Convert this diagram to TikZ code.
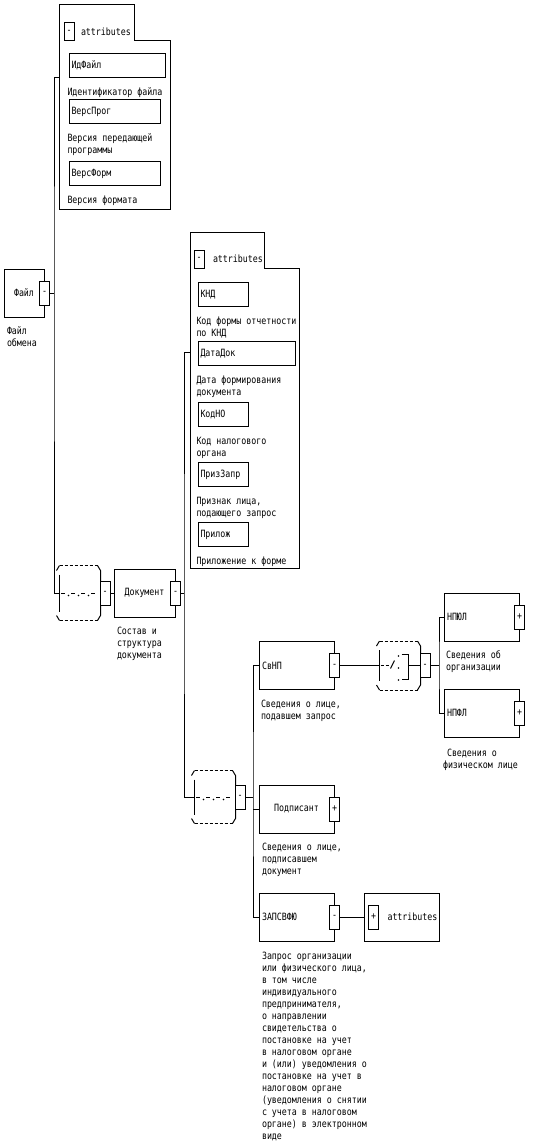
\documentclass[tikz,border=0pt]{standalone}
\usepackage{fontspec}
\usepackage{tikz}
\usetikzlibrary{positioning}
\newfontfamily\xsdfont[FakeStretch=0.83]{DejaVu Sans Mono}
\newcommand{\xsd}{\xsdfont\fontsize{10}{12}\selectfont}
\newcommand{\compframe}[1]{%
  \draw ([xshift=-3pt,yshift=-5pt]#1.north west) -- (#1.north west);
  \draw[dash pattern=on 3pt off 2pt] (#1.north west) -- (#1.north east);
  \draw (#1.north east) -- ([xshift=3pt,yshift=-5pt]#1.north east) -- ([xshift=3pt,yshift=5pt]#1.south east) -- (#1.south east);
  \draw[dash pattern=on 3pt off 2pt] (#1.south west) -- (#1.south east);
  \draw ([xshift=-3pt,yshift=5pt]#1.south west) -- (#1.south west);
  \draw ([yshift=-9pt]#1.north west) -- ([yshift=9pt]#1.south west);}
\newcommand{\seqmark}[1]{%
  \draw[dash pattern=on 4pt off 6pt,dash phase=8.5pt] (#1.west) -- ([xshift=2pt]#1.east);
  \foreach \dx in {-10,0,10}
    \fill ([xshift=\dx pt,yshift=-2.5pt]#1.center) circle (0.8pt);}
\newcommand{\choicemark}[1]{%
  \draw[dash pattern=on 3pt off 2pt] ([xshift=1pt]#1.west) -- ([xshift=10pt]#1.west);
  \draw ([xshift=11pt,yshift=-3pt]#1.west) -- ([xshift=15pt,yshift=5pt]#1.west);
  \foreach \dy in {9.5,-2.5,-14.5}
    \fill ([xshift=19pt,yshift=\dy pt]#1.west) circle (0.8pt);
  \draw ([xshift=22pt,yshift=11pt]#1.west) -- ([xshift=29pt,yshift=11pt]#1.west) -- ([xshift=29pt,yshift=-14pt]#1.west) -- ([xshift=22pt,yshift=-14pt]#1.west);
  \draw ([xshift=29pt]#1.west) -- ([xshift=2pt]#1.east);}

\begin{document}
\begin{tikzpicture}[
  x=1pt,y=-1pt,line width=1pt,
  every node/.style={font=\xsd,inner sep=0pt},
  elem/.style={draw,minimum width=#1,minimum height=48pt},
  xbox/.style={draw,fill=white,minimum width=10pt,minimum height=24pt},
  tabx/.style={draw,fill=white,minimum width=10pt,minimum height=18pt},
  attr/.style={draw,anchor=north west,minimum height=24pt,inner xsep=2pt,text width=#1,align=left},
  lbl/.style={align=left,anchor=north west},
  comp/.style={minimum width=37pt,minimum height=#1}
]
\useasboundingbox (0,0) rectangle (535,1148);

\node[elem=40pt] (fajl) at (24,293) {Файл};
\node[xbox] (fajlx) at (fajl.east) {-};
\node[below right=8.5pt and 3pt of fajl.south west,lbl] (fajl-l) {Файл\\обмена};

\draw (59,5) -- (134,5) -- (134,41) -- (170,41) -- (170,209) -- (59,209) -- cycle;
\node[tabx] (attrax) at (69,32) {-};
\node[right=6pt of attrax] (attrat) {attributes};
\node[attr=92pt] (idfajl) at (69,53) {ИдФайл};
\node[below right=9.5pt and -2pt of idfajl.south west,lbl] (idfajl-l) {Идентификатор файла};
\node[attr=87pt] (versprog) at (69,99) {ВерсПрог};
\node[below right=9.5pt and -2pt of versprog.south west,lbl] (versprog-l) {Версия передающей\\программы};
\node[attr=87pt] (versform) at (69,161) {ВерсФорм};
\node[below right=9.5pt and -2pt of versform.south west,lbl] (versform-l) {Версия формата};

\node[comp=54pt] (seqa) at (78.5,593) {};
\compframe{seqa}
\seqmark{seqa}
\node[xbox,right=2pt of seqa] (seqax) {-};

\coordinate (attrain) at (59,77);
\coordinate (busa) at (54,293);
\draw (fajlx) -- (busa);
\draw (attrain) -| (busa) |- (seqa);

\node[elem=61pt] (dokument) at (144.5,593) {Документ};
\node[xbox] (dokumentx) at (dokument.east) {-};
\node[below right=9.5pt and 3pt of dokument.south west,lbl] (dokument-l) {Состав и\\структура\\документа};
\draw (seqax) -- (dokument);

\draw (190,232) -- (264,232) -- (264,268) -- (299,268) -- (299,568) -- (190,568) -- cycle;
\node[tabx] (attrbx) at (199,259) {-};
\node[right=8pt of attrbx] (attrbt) {attributes};
\node[attr=46pt] (knd) at (198,282) {КНД};
\node[below right=9.5pt and -2pt of knd.south west,lbl] (knd-l) {Код формы отчетности\\по КНД};
\node[attr=93pt] (datadok) at (198,341) {ДатаДок};
\node[below right=9.5pt and -2pt of datadok.south west,lbl] (datadok-l) {Дата формирования\\документа};
\node[attr=46pt] (kodno) at (198,402) {КодНО};
\node[below right=9.5pt and -2pt of kodno.south west,lbl] (kodno-l) {Код налогового\\органа};
\node[attr=46pt] (prizzapr) at (198,462) {ПризЗапр};
\node[below right=9.5pt and -2pt of prizzapr.south west,lbl] (prizzapr-l) {Признак лица,\\подающего запрос};
\node[attr=46pt] (prilozh) at (198,522) {Прилож};
\node[below right=9.5pt and -2pt of prilozh.south west,lbl] (prilozh-l) {Приложение к форме};

\node[comp=52pt] (seqb) at (213.5,797) {};
\compframe{seqb}
\seqmark{seqb}
\node[xbox,right=2pt of seqb] (seqbx) {-};

\coordinate (attrbin) at (190,352);
\coordinate (busb) at (184,593);
\draw (dokumentx) -- (busb);
\draw (attrbin) -| (busb) |- (seqb);

\node[elem=75pt,text width=69pt,align=left] (svnp) at (296.5,665.5) {СвНП};
\node[xbox] (svnpx) at (svnp.east) {-};
\node[below right=9.5pt and 2pt of svnp.south west,lbl] (svnp-l) {Сведения о лице,\\подавшем запрос};

\node[elem=75pt] (podpisant) at (296.5,809) {Подписант};
\node[xbox] (podpisantx) at (podpisant.east) {+};
\node[below right=9.5pt and 3pt of podpisant.south west,lbl] (podpisant-l) {Сведения о лице,\\подписавшем\\документ};

\node[elem=75pt,text width=69pt,align=left] (zapsvfu) at (296.5,917) {ЗАПСВФЮ};
\node[xbox] (zapsvfux) at (zapsvfu.east) {-};
\node[below right=10.5pt and 3pt of zapsvfu.south west,lbl] (zapsvfu-l) {Запрос организации\\или физического лица,\\в том числе\\индивидуального\\предпринимателя,\\о направлении\\свидетельства о\\постановке на учет\\в налоговом органе\\и (или) уведомления о\\постановке на учет в\\налоговом органе\\(уведомления о снятии\\с учета в налоговом\\органе) в электронном\\виде};

\node[elem=75pt] (zapattr) at (401.5,917) {};
\node[xbox] (zapattrx) at ([xshift=10pt]zapattr.west) {+};
\node[right=8pt of zapattrx] (zapattrt) {attributes};
\draw (zapsvfux) -- (zapattr);

\coordinate (busc) at (253,797);
\draw (seqbx) -- (busc);
\draw (svnp) -| (busc) |- (zapsvfu);
\draw (podpisant) -- (podpisant -| busc);

\node[comp=48pt] (chc) at (398.5,665.5) {};
\compframe{chc}
\choicemark{chc}
\node[xbox,right=2pt of chc] (chcx) {-};
\draw (svnpx) -- (chc);

\node[elem=75pt,text width=69pt,align=left] (npul) at (481.5,617) {НПЮЛ};
\node[xbox] (npulx) at (npul.east) {+};
\node[below right=8.5pt and 2pt of npul.south west,lbl] (npul-l) {Сведения об\\организации};

\node[elem=75pt,text width=69pt,align=left] (npfl) at (481.5,713) {НПФЛ};
\node[xbox] (npflx) at (npfl.east) {+};
\node[below right=11.5pt and -1pt of npfl.south west,lbl] (npfl-l) {\hspace*{4pt}Сведения о\\физическом лице};

\coordinate (busd) at (439,665.5);
\draw (chcx) -- (busd);
\draw (npul) -| (busd) |- (npfl);
\end{tikzpicture}
\end{document}
